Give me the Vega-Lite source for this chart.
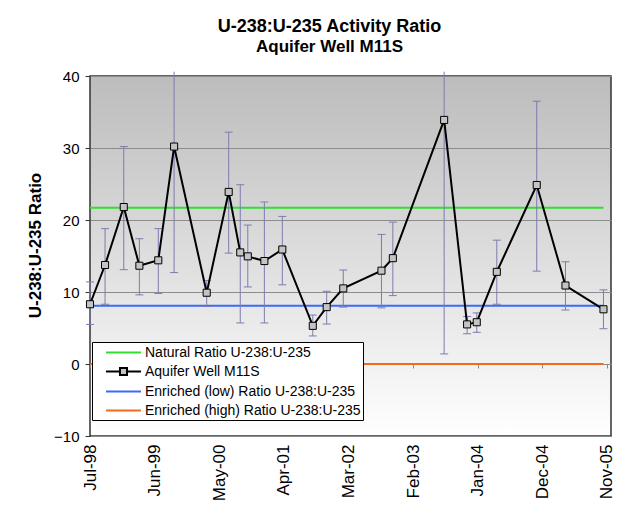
{
  "$schema": "https://vega.github.io/schema/vega-lite/v6.json",
  "width": 521,
  "height": 360,
  "autosize": "none",
  "padding": {"left": 90, "top": 76, "right": 24, "bottom": 84},
  "background": "white",
  "config": {
    "font": "Liberation Sans",
    "view": {
      "stroke": "#333333",
      "strokeWidth": 1.5,
      "fill": {
        "gradient": "linear",
        "x1": 0, "y1": 0, "x2": 0, "y2": 1,
        "stops": [
          {"offset": 0, "color": "#bcbcbc"},
          {"offset": 1, "color": "#ffffff"}
        ]
      }
    }
  },
  "title": {
    "text": "U-238:U-235 Activity Ratio",
    "subtitle": "Aquifer Well M11S",
    "font": "Liberation Sans",
    "fontSize": 18,
    "fontWeight": "bold",
    "subtitleFont": "Liberation Sans",
    "subtitleFontSize": 17,
    "subtitleFontWeight": "bold",
    "subtitleColor": "black",
    "color": "black",
    "anchor": "middle",
    "dx": -21,
    "offset": 14,
    "subtitlePadding": 3
  },
  "datasets": {
    "refs": [
      {"series": "Natural Ratio U-238:U-235", "date": "1998-07-20", "value": 21.7},
      {"series": "Natural Ratio U-238:U-235", "date": "2005-11-02", "value": 21.7},
      {"series": "Enriched (low) Ratio U-238:U-235", "date": "1998-07-20", "value": 8.1},
      {"series": "Enriched (low) Ratio U-238:U-235", "date": "2005-11-02", "value": 8.1},
      {"series": "Enriched (high) Ratio U-238:U-235", "date": "1998-07-20", "value": 0},
      {"series": "Enriched (high) Ratio U-238:U-235", "date": "2005-11-02", "value": 0}
    ],
    "samples": [
      {"date": "1998-07-20", "ratio": 8.3, "lo": 5.5, "hi": 11.4, "hiCap": 11.4},
      {"date": "1998-10-06", "ratio": 13.75, "lo": 8.3, "hi": 18.8, "hiCap": 18.8},
      {"date": "1999-01-11", "ratio": 21.8, "lo": 13.1, "hi": 30.2, "hiCap": 30.2},
      {"date": "1999-04-02", "ratio": 13.65, "lo": 9.6, "hi": 17.4, "hiCap": 17.4},
      {"date": "1999-07-09", "ratio": 14.4, "lo": 9.8, "hi": 18.8, "hiCap": 18.8},
      {"date": "1999-09-29", "ratio": 30.2, "lo": 12.7, "hi": 40.6, "hiCap": null},
      {"date": "2000-03-16", "ratio": 9.9, "lo": 8.0, "hi": 11.6, "hiCap": 11.6},
      {"date": "2000-07-08", "ratio": 23.9, "lo": 15.4, "hi": 32.2, "hiCap": 32.2},
      {"date": "2000-09-06", "ratio": 15.5, "lo": 5.7, "hi": 24.9, "hiCap": 24.9},
      {"date": "2000-10-15", "ratio": 14.95, "lo": 10.7, "hi": 19.3, "hiCap": 19.3},
      {"date": "2001-01-09", "ratio": 14.3, "lo": 5.7, "hi": 22.5, "hiCap": 22.5},
      {"date": "2001-04-12", "ratio": 15.9, "lo": 11.0, "hi": 20.5, "hiCap": 20.5},
      {"date": "2001-09-17", "ratio": 5.3, "lo": 3.9, "hi": 6.8, "hiCap": 6.8},
      {"date": "2001-11-28", "ratio": 7.9, "lo": 5.55, "hi": 10.1, "hiCap": 10.1},
      {"date": "2002-02-22", "ratio": 10.5, "lo": 7.9, "hi": 13.05, "hiCap": 13.05},
      {"date": "2002-09-08", "ratio": 12.96, "lo": 7.8, "hi": 18.0, "hiCap": 18.0},
      {"date": "2002-11-06", "ratio": 14.7, "lo": 9.5, "hi": 19.7, "hiCap": 19.7},
      {"date": "2003-07-30", "ratio": 33.9, "lo": 1.4, "hi": 40.6, "hiCap": null},
      {"date": "2003-11-26", "ratio": 5.5, "lo": 4.2, "hi": 6.6, "hiCap": 6.6},
      {"date": "2004-01-15", "ratio": 5.8, "lo": 4.4, "hi": 7.1, "hiCap": 7.1},
      {"date": "2004-04-28", "ratio": 12.8, "lo": 8.3, "hi": 17.2, "hiCap": 17.2},
      {"date": "2004-11-21", "ratio": 24.86, "lo": 12.9, "hi": 36.5, "hiCap": 36.5},
      {"date": "2005-04-19", "ratio": 10.9, "lo": 7.5, "hi": 14.2, "hiCap": 14.2},
      {"date": "2005-11-02", "ratio": 7.6, "lo": 4.9, "hi": 10.3, "hiCap": 10.3}
    ]
  },
  "encoding": {
    "x": {
      "field": "date",
      "type": "temporal",
      "title": null,
      "scale": {
        "type": "utc",
        "domain": [
          {"year": 1998, "month": 7, "date": 20, "utc": true},
          {"year": 2005, "month": 12, "date": 11, "utc": true}
        ]
      },
      "axis": {
        "values": [
          {"year": 1998, "month": 7, "date": 20, "utc": true},
          {"year": 1999, "month": 6, "date": 20, "utc": true},
          {"year": 2000, "month": 5, "date": 20, "utc": true},
          {"year": 2001, "month": 4, "date": 20, "utc": true},
          {"year": 2002, "month": 3, "date": 21, "utc": true},
          {"year": 2003, "month": 2, "date": 19, "utc": true},
          {"year": 2004, "month": 1, "date": 20, "utc": true},
          {"year": 2004, "month": 12, "date": 20, "utc": true},
          {"year": 2005, "month": 11, "date": 20, "utc": true}
        ],
        "labelExpr": "utcFormat(datum.value, '%b-%y')",
        "labelAngle": 270,
        "labelFontSize": 17,
        "labelColor": "black",
        "labelPadding": 76,
        "offset": -72,
        "domain": false,
        "grid": false,
        "tickSize": 4,
        "tickColor": "#888888",
        "labelOverlap": false
      }
    }
  },
  "layer": [
    {
      "data": {"name": "refs"},
      "mark": {"type": "line", "strokeWidth": 2},
      "encoding": {
        "y": {
          "field": "value",
          "type": "quantitative",
          "title": "U-238:U-235 Ratio",
          "scale": {"domain": [-10, 40], "nice": false, "zero": false},
          "axis": {
            "values": [-10, 0, 10, 20, 30, 40],
            "grid": true,
            "gridColor": "#8c8c8c",
            "gridWidth": 1,
            "domain": false,
            "tickSize": 5,
            "tickColor": "#333333",
            "labelFontSize": 15,
            "labelColor": "black",
            "labelPadding": 6,
            "titleFontSize": 17,
            "titleFontWeight": "bold",
            "titleColor": "black",
            "titleX": -55,
            "titleY": 169,
            "titleBaseline": "middle"
          }
        },
        "color": {
          "field": "series",
          "type": "nominal",
          "scale": {
            "domain": [
              "Natural Ratio U-238:U-235",
              "Aquifer Well M11S",
              "Enriched (low) Ratio U-238:U-235",
              "Enriched (high) Ratio U-238:U-235"
            ],
            "range": ["#2fe02f", "#000000", "#3a6cf5", "#f26a1a"]
          },
          "legend": {
            "orient": "none",
            "legendX": 2,
            "legendY": 266,
            "title": null,
            "symbolType": "M-2.33,0H2.33",
            "symbolSize": 225,
            "symbolStrokeWidth": 2,
            "labelFontSize": 14,
            "labelColor": "black",
            "labelLimit": 400,
            "labelOffset": 13,
            "fillColor": "white",
            "strokeColor": "black",
            "padding": 2,
            "symbolOffset": 21,
            "rowPadding": 3,
            "encode": {
              "symbols": {
                "update": {
                  "shape": {"signal": "datum.value === 'Aquifer Well M11S' ? 'M-2.33,0H-0.47M0.47,0H2.33M-0.47,-0.47H0.47V0.47H-0.47Z' : 'M-2.33,0H2.33'"},
                  "fill": {"signal": "datum.value === 'Aquifer Well M11S' ? '#c4c4c4' : 'transparent'"}
                }
              }
            }
          }
        }
      }
    },
    {
      "data": {"name": "samples"},
      "mark": {"type": "rule", "color": "#7c7cae", "strokeWidth": 1},
      "encoding": {
        "y": {"field": "lo", "type": "quantitative", "title": "U-238:U-235 Ratio"},
        "y2": {"field": "hi"}
      }
    },
    {
      "data": {"name": "samples"},
      "mark": {"type": "tick", "orient": "horizontal", "size": 8, "thickness": 1, "color": "#7c7cae", "opacity": 1},
      "encoding": {
        "y": {"field": "lo", "type": "quantitative", "title": "U-238:U-235 Ratio"}
      }
    },
    {
      "data": {"name": "samples"},
      "mark": {"type": "tick", "orient": "horizontal", "size": 8, "thickness": 1, "color": "#7c7cae", "opacity": 1},
      "encoding": {
        "y": {"field": "hiCap", "type": "quantitative", "title": "U-238:U-235 Ratio"}
      }
    },
    {
      "data": {"name": "samples"},
      "mark": {"type": "line", "strokeWidth": 2},
      "encoding": {
        "y": {"field": "ratio", "type": "quantitative", "title": "U-238:U-235 Ratio"},
        "color": {"datum": "Aquifer Well M11S"}
      }
    },
    {
      "data": {"name": "samples"},
      "mark": {"type": "point", "shape": "square", "filled": true, "fill": "#c4c4c4", "stroke": "#000000", "strokeWidth": 1, "size": 50, "opacity": 1},
      "encoding": {
        "y": {"field": "ratio", "type": "quantitative", "title": "U-238:U-235 Ratio"}
      }
    }
  ]
}
